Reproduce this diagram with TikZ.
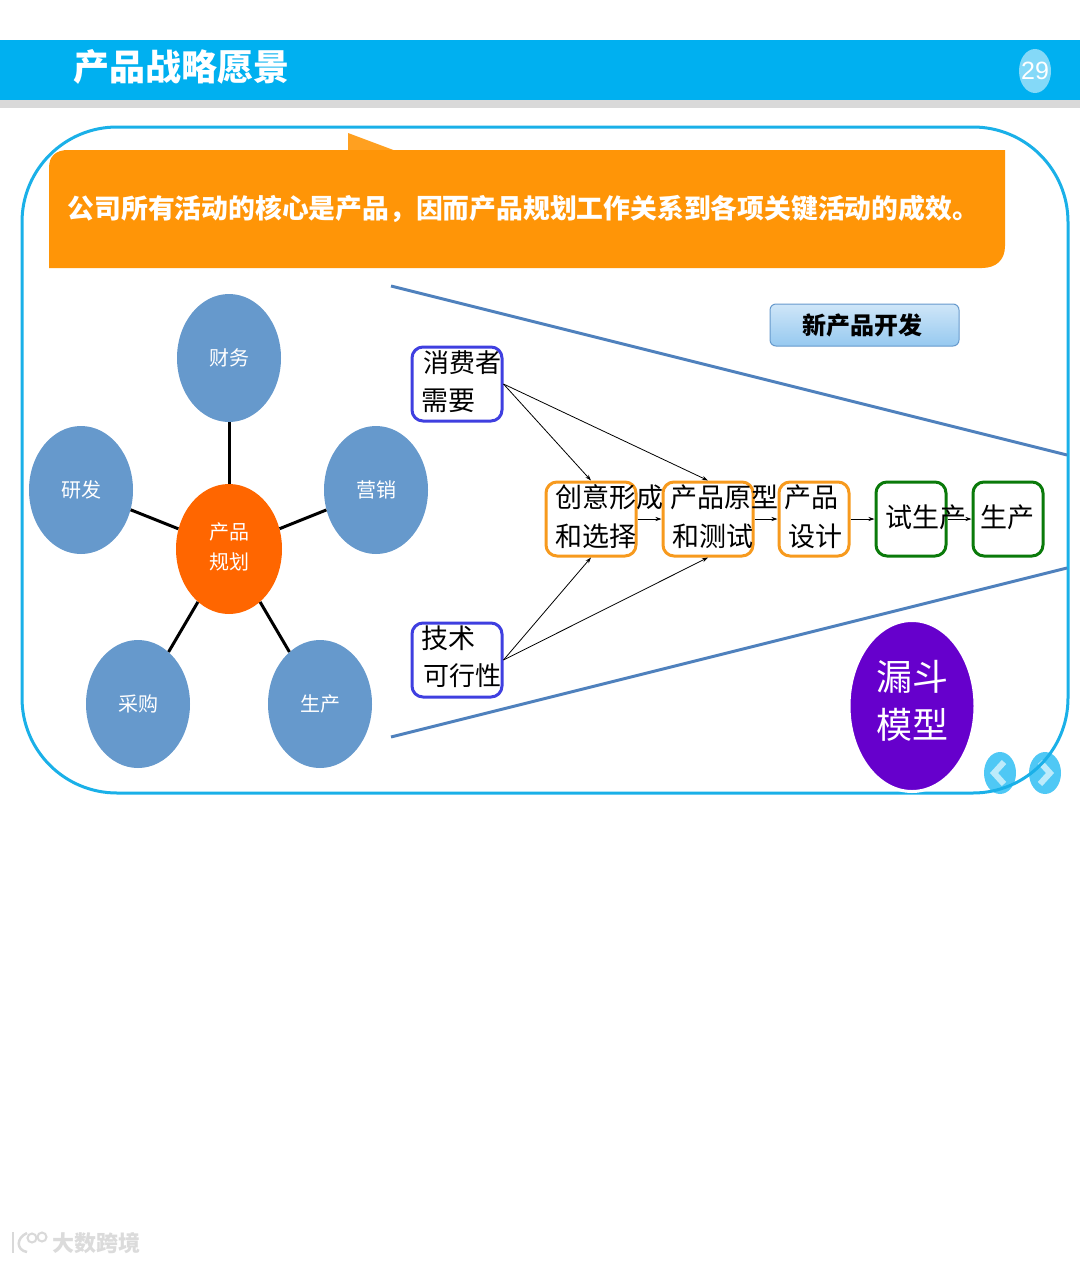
\documentclass[tikz,border=0pt]{standalone}
\usepackage{fontspec}
\setmainfont{Noto Sans CJK SC}
\newfontfamily\latinf{Liberation Sans}
\usetikzlibrary{shapes.geometric,arrows.meta}
\definecolor{hdr}{HTML}{00B0F0}
\definecolor{hdrgray}{HTML}{D9D9D9}
\definecolor{frameb}{HTML}{1AB0E8}
\definecolor{orangeb}{HTML}{FF9507}
\definecolor{petal}{HTML}{6699CC}
\definecolor{hub}{HTML}{FF6600}
\definecolor{funnel}{HTML}{4F81BD}
\definecolor{bluebox}{HTML}{3F3FE0}
\definecolor{orbox}{HTML}{F79A1E}
\definecolor{grbox}{HTML}{0A7A0A}
\definecolor{purp}{HTML}{6600CC}
\definecolor{navb}{HTML}{4FC8F5}
\definecolor{navc}{HTML}{BDEBFB}
\definecolor{btntop}{HTML}{CFE6F8}
\definecolor{btnbot}{HTML}{96C9F0}
\newcommand{\fs}[1]{\fontsize{#1}{#1}\selectfont}
\tikzset{
  x=1pt,y=-1pt,
  petalnode/.style={ellipse,fill=petal,minimum width=104pt,minimum height=128pt,inner sep=0pt,text=white,font=\fs{20}},
  spoke/.style={draw=black,line width=3pt},
  funnelline/.style={draw=funnel,line width=3pt},
  flowbox/.style={draw,rounded corners=11pt,line width=3pt,fill=white,minimum height=74pt,inner sep=0pt},
  wide/.style={flowbox,minimum width=90pt},
  narrow/.style={flowbox,minimum width=70pt},
  boxtext/.style={font=\fs{27},text=black,inner sep=0pt},
  flow/.style={draw=black,line width=0.8pt,-{Stealth[length=6pt,width=4pt]}},
  navbtn/.style={ellipse,fill=navb,minimum width=32pt,minimum height=42pt,inner sep=0pt},
  chev/.style={draw=navc,line width=6pt},
}
\begin{document}
\begin{tikzpicture}
\path[use as bounding box,fill=white] (0,0) rectangle (1080,1263);
% header
\fill[hdr] (0,40) rectangle (1080,100);
\fill[hdrgray] (0,100) rectangle (1080,108);
\node[font=\fs{36}\bfseries,text=white,inner sep=0pt] (title) at (181,67) {产品战略愿景};
\node[ellipse,fill=navc!70!hdr,minimum width=32pt,minimum height=44pt,inner sep=0pt,text=white,font=\latinf\fs{25}] (pg) at (1035,71) {\makebox[0pt]{29}};
% nav buttons under frame
\node[navbtn] (prev) at (1000,773) {};
\node[navbtn] (next) at (1045,773) {};
\draw[chev] (1004,762) -- (994,773) -- (1004,784);
\draw[chev] (1040,762) -- (1050,773) -- (1040,784);
% frame
\draw[frameb,line width=3pt,rounded corners=95pt] (22,127) rectangle (1068,793);
% banner
\fill[orangeb!90!white] (348,133) -- (348,151) -- (396,151) -- cycle;
\fill[orangeb] (49,268) -- (49,168) .. controls (49,156) and (56,150) .. (68,150) -- (1005,150) -- (1005,246) .. controls (1005,260) and (996,268) .. (982,268) -- cycle;
\node[font=\fs{26.8}\bfseries,text=white,inner sep=0pt,anchor=west] (bannertext) at (67.5,209) {公司所有活动的核心是产品，因而产品规划工作关系到各项关键活动的成效。};
% funnel
\coordinate (ft1) at (391,286);
\coordinate (ft2) at (1067,455);
\coordinate (fb1) at (391,737);
\coordinate (fb2) at (1067,568);
\draw[funnelline] (ft1) -- (ft2);
\draw[funnelline] (fb1) -- (fb2);
% star
\node[petalnode] (caiwu) at (229,358) {财务};
\node[petalnode] (yanfa) at (81,490) {研发};
\node[petalnode] (yingxiao) at (376,490) {营销};
\node[petalnode] (caigou) at (138,704) {采购};
\node[petalnode] (shengchan) at (320,704) {生产};
\node[ellipse,fill=hub,minimum width=106pt,minimum height=130pt,inner sep=0pt,
  label={[text=white,font=\fs{20},align=center,inner sep=0pt,yshift=2pt]center:产品\\[10pt]规划}] (hubn) at (229,549) {};
\draw[spoke] (hubn) -- (caiwu);
\draw[spoke] (hubn) -- (yanfa);
\draw[spoke] (hubn) -- (yingxiao);
\draw[spoke] (hubn) -- (caigou);
\draw[spoke] (hubn) -- (shengchan);
% button
\node[draw=petal,line width=1pt,rounded corners=6pt,top color=btntop,bottom color=btnbot,minimum width=189pt,minimum height=42pt,inner sep=0pt,font=\fs{24}\bfseries,text=black] (xin) at (864.5,325) {\hspace{-4pt}新产品开发};
% flow boxes
\node[wide,draw=bluebox] (xf) at (457,384) {};
\node[wide,draw=bluebox] (js) at (457,660) {};
\node[wide,draw=orbox] (cy) at (591,519) {};
\node[wide,draw=orbox] (yx) at (708,519) {};
\node[narrow,draw=orbox] (sj) at (814,519) {};
\node[narrow,draw=grbox] (sc) at (911,519) {};
\node[narrow,draw=grbox] (pr) at (1008,519) {};
% flow text
\node[boxtext,font=\fs{26},anchor=west] (t1) at (423,363) {消费者};
\node[boxtext,anchor=west] (t2) at (421,401) {需要};
\node[boxtext,anchor=west] (t3) at (421,638) {技术};
\node[boxtext,font=\fs{26},anchor=west] (t4) at (423,676) {可行性};
\node[boxtext,anchor=west] (t5) at (555,497) {创意形成};
\node[boxtext,anchor=west] (t6) at (555,536) {和选择};
\node[boxtext,anchor=west] (t7) at (670,497) {产品原型};
\node[boxtext,anchor=west] (t8) at (672,536) {和测试};
\node[boxtext,anchor=west] (t9) at (784,497) {产品};
\node[boxtext,anchor=west] (t10) at (788,536) {设计};
\node[boxtext,anchor=west] (t11) at (885,517) {试生产};
\node[boxtext,anchor=west] (t12) at (980,517) {生产};
% flow arrows
\draw[flow] (xf.east) -- (cy.north);
\draw[flow] (xf.east) -- (yx.north);
\draw[flow] (js.east) -- (cy.south);
\draw[flow] (js.east) -- (yx.south);
\draw[flow] (cy.east) -- (yx.west);
\draw[flow] (yx.east) -- (sj.west);
\draw[flow] (sj.east) -- (sc.west);
\draw[flow] (sc.east) -- (pr.west);
% funnel label
\node[ellipse,fill=purp,draw=white,line width=3pt,minimum width=126pt,minimum height=171pt,inner sep=0pt,
  label={[text=white,font=\fs{36},align=center,inner sep=0pt,yshift=5pt]center:漏斗\\[12pt]模型}] (ld) at (912,706) {};
% watermark
\draw[gray!30,line width=2.5pt] (13,1232) -- (13,1253);
\draw[gray!30,line width=2.5pt] (27,1233) .. controls (16,1238) and (16,1250) .. (27,1252);
\draw[gray!30,line width=2pt] (32,1238) circle[radius=4.5pt];
\draw[gray!30,line width=2pt] (42,1237) circle[radius=4.5pt];
\node[font=\fs{22}\bfseries,text=gray!28,inner sep=0pt,anchor=west] (wm) at (52,1243) {大数跨境};
\end{tikzpicture}
\end{document}
